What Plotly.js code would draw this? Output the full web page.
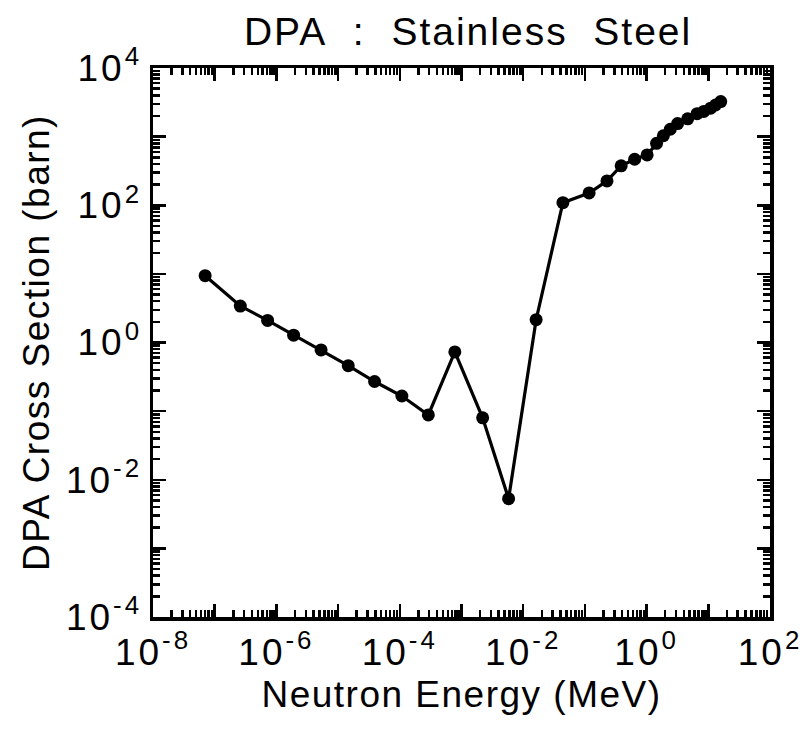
<!DOCTYPE html>
<html>
<head>
<meta charset="utf-8">
<script src="https://cdn.plot.ly/plotly-3.0.1.min.js"></script>
<style>
html,body{margin:0;padding:0;background:#fff;}
#chart{width:807px;height:737px;}
#chart .xtick text, #chart .ytick text{letter-spacing:3px;}
#chart .xtitle, #chart .ytitle{letter-spacing:1.5px;}
#chart .gtitle{letter-spacing:2px;}
</style>
</head>
<body>
<div id="chart"></div>
<script>
// Neutron energy (MeV) and DPA cross section (barn)
const energy = [7.0e-8, 2.6e-7, 7.2e-7, 1.9e-6, 5.3e-6, 1.46e-5, 3.9e-5, 1.08e-4, 2.9e-4,
                7.8e-4, 2.2e-3, 5.8e-3, 1.62e-2, 4.4e-2, 0.117, 0.228, 0.387, 0.64, 1.02,
                1.45, 1.87, 2.42, 3.18, 4.63, 6.58, 8.45, 10.9, 13.1, 15.9];
const dpa = [9.4, 3.4, 2.1, 1.28, 0.78, 0.46, 0.27, 0.166, 0.088,
             0.73, 0.080, 0.0053, 2.15, 109, 151, 226, 376, 468, 542,
             798, 1030, 1280, 1550, 1820, 2160, 2330, 2600, 2890, 3240];

// labelled decades and the unlabelled (odd) decades
const xLabelDecades = [-8,-6,-4,-2,0,2];
const xLabels  = ['10<sup>-8</sup>','10<sup>-6</sup>','10<sup>-4</sup>','10<sup>-2</sup>','10<sup>0</sup>','10<sup>2</sup>'];
const xOddDecades = [-7,-5,-3,-1,1];
const yLabelDecades = [-4,-2,0,2,4];
const yLabels  = ['10<sup>-4</sup>','10<sup>-2</sup>','10<sup>0</sup>','10<sup>2</sup>','10<sup>4</sup>'];
const yOddDecades = [-3,-1,1,3];

function minorVals(lo, hi){
  const out=[];
  for(let d=lo; d<hi; d++){ for(let k=2;k<=9;k++){ out.push(k*Math.pow(10,d)); } }
  return out;
}
const pow10 = d => Math.pow(10, d);

const FONT = 'Liberation Sans, Arial, Helvetica, sans-serif';

const trace = {
  x: energy, y: dpa, type: 'scatter', mode: 'lines+markers',
  line: {color: '#000', width: 3.2},
  marker: {color: '#000', size: 13, symbol: 'circle'},
  showlegend: false, hoverinfo: 'x+y'
};
// invisible helper so that the overlay axes (odd-decade major ticks) are drawn
const helper = {
  x: [1e-8], y: [1e-4], xaxis: 'x2', yaxis: 'y2', type: 'scatter', mode: 'markers',
  marker: {opacity: 0, size: 1}, showlegend: false, hoverinfo: 'skip'
};

const tickCommon = {ticks: 'inside', tickwidth: 2.5, tickcolor: '#000'};
const axisCommon = Object.assign({
  type: 'log', showgrid: false, zeroline: false,
  showline: true, linecolor: '#000', linewidth: 3.5, mirror: 'ticks',
  ticklen: 13, tickmode: 'array',
  tickfont: {family: FONT, size: 37, color: '#000'}
}, tickCommon);

const overlayCommon = Object.assign({
  type: 'log', showgrid: false, zeroline: false, showline: false,
  mirror: 'ticks', ticklen: 13, tickmode: 'array', showticklabels: false
}, tickCommon);

const layout = {
  width: 807, height: 737,
  paper_bgcolor: '#fff', plot_bgcolor: '#fff',
  margin: {l: 153, r: 37, t: 68, b: 120},
  title: {text: 'DPA\u00a0\u00a0:\u00a0\u00a0Stainless\u00a0\u00a0Steel', font: {family: FONT, size: 39, color: '#000'},
          x: 0.58, xref: 'container', xanchor: 'center', y: 0.958, yref: 'container', yanchor: 'middle'},
  xaxis: Object.assign({}, axisCommon, {
    range: [-8, 2],
    tickvals: xLabelDecades.map(pow10), ticktext: xLabels,
    minor: Object.assign({tickmode: 'array', tickvals: minorVals(-8, 2), ticklen: 7, showgrid: false}, tickCommon),
    title: {text: 'Neutron Energy (MeV)', font: {family: FONT, size: 37, color: '#000'}, standoff: 10}
  }),
  yaxis: Object.assign({}, axisCommon, {
    range: [-4, 4],
    tickvals: yLabelDecades.map(pow10), ticktext: yLabels,
    minor: Object.assign({tickmode: 'array', tickvals: minorVals(-4, 4), ticklen: 7, showgrid: false}, tickCommon),
    title: {text: 'DPA Cross Section (barn)', font: {family: FONT, size: 37, color: '#000'}, standoff: 18}
  }),
  xaxis2: Object.assign({}, overlayCommon, {
    range: [-8, 2], overlaying: 'x', anchor: 'y2', side: 'bottom',
    tickvals: xOddDecades.map(pow10)
  }),
  yaxis2: Object.assign({}, overlayCommon, {
    range: [-4, 4], overlaying: 'y', anchor: 'x2', side: 'left',
    tickvals: yOddDecades.map(pow10)
  })
};

Plotly.newPlot('chart', [trace, helper], layout, {displayModeBar: false, staticPlot: true});
</script>
</body>
</html>
